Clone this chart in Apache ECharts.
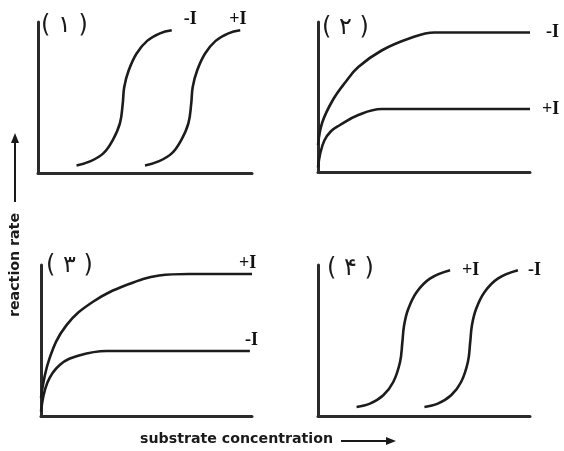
<!DOCTYPE html>
<html>
<head>
<meta charset="utf-8">
<script src="https://cdn.jsdelivr.net/npm/echarts@6/dist/echarts.min.js"></script>
<style>
  html, body { margin: 0; padding: 0; background: #fff; }
  #chart { width: 564px; height: 451px; }
</style>
</head>
<body>
<div id="chart"></div>
<script>
// panel tags and curve names
const panelLabels = ["(۱)", "(۲)", "(۳)", "(۴)"];
const noInhibName = "-I";
const inhibName = "+I";

// panel 1: sigmoid, inhibitor shifts right
const p1NoInhibX = [18, 24, 30.5, 35, 38.3, 39.6, 40.3, 42.4, 46, 51, 57, 62.5];
const p1NoInhibY = [5, 7.5, 13, 22, 33, 46, 57, 68, 79, 87.5, 92.5, 94.5];
const p1InhibX = [50, 56, 62.5, 67, 70.3, 71.6, 72.3, 74.4, 78, 83, 89, 94.5];
const p1InhibY = [5, 7.5, 13, 22, 33, 46, 57, 68, 79, 87.5, 92.5, 94.5];

// panel 2: hyperbolic, inhibitor lowers plateau
const p2NoInhibX = [0, 2, 7, 13, 19, 30, 43, 55, 70, 100];
const p2NoInhibY = [18, 33, 48, 60, 70, 81, 89, 93, 93, 93];
const p2InhibX = [0, 1, 3, 6, 10, 19, 30, 45, 100];
const p2InhibY = [3, 12, 21, 27, 31, 38, 42, 42, 42];

// panel 3: hyperbolic, inhibitor raises plateau
const p3InhibX = [0, 4, 12, 25, 41, 56, 70, 100];
const p3InhibY = [12, 38, 60, 76, 87, 93, 94, 94];
const p3NoInhibX = [0, 3, 9, 18, 31, 45, 99];
const p3NoInhibY = [3, 22, 34, 40, 43, 43, 43];

// panel 4: sigmoid, inhibitor shifts left
const p4InhibX = [18.2, 24.5, 30.8, 35.5, 38.7, 39.8, 40.6, 42.6, 46.5, 52.8, 62.3];
const p4InhibY = [6, 8.2, 13.7, 22.5, 35.8, 49, 60, 71, 82, 91, 96.5];
const p4NoInhibX = [50.2, 56.5, 62.8, 67.5, 70.7, 71.8, 72.6, 74.6, 78.5, 84.8, 94.3];
const p4NoInhibY = [6, 8.2, 13.7, 22.5, 35.8, 49, 60, 71, 82, 91, 96.5];

const zip = (xs, ys) => xs.map((x, i) => [x, ys[i]]);

const chart = echarts.init(document.getElementById("chart"), null, { renderer: "canvas" });

const grids = [
  { left: 38, top: 22, width: 214, height: 151 },
  { left: 318, top: 22, width: 212, height: 150 },
  { left: 41, top: 265, width: 211, height: 151 },
  { left: 318, top: 265, width: 212, height: 151 }
];

const axisBase = {
  type: "value",
  min: 0,
  max: 100,
  axisLine: { show: true, lineStyle: { color: "#2b2b2b", width: 3 } },
  axisTick: { show: false },
  axisLabel: { show: false },
  splitLine: { show: false }
};

const curve = (name, data, idx, offset) => ({
  name: name,
  type: "line",
  xAxisIndex: idx,
  yAxisIndex: idx,
  data: data,
  smooth: 0.4,
  showSymbol: false,
  symbol: "none",
  animation: false,
  lineStyle: { color: "#1c1c1c", width: 2.6 },
  endLabel: {
    show: true,
    formatter: name,
    offset: offset,
    color: "#111",
    fontFamily: "Liberation Serif",
    fontWeight: "bold",
    fontSize: 18
  }
});

const titleFont = {
  fontFamily: "DejaVu Sans",
  fontWeight: "bold",
  fontSize: 14.2,
  fill: "#1a1a1a"
};

const tagPos = [[41, 14], [322, 16], [46, 254], [327, 257]];

const option = {
  backgroundColor: "#fff",
  animation: false,
  grid: grids,
  xAxis: grids.map((g, i) => Object.assign({ gridIndex: i }, axisBase)),
  yAxis: grids.map((g, i) => Object.assign({ gridIndex: i }, axisBase)),
  series: [
    curve(noInhibName, zip(p1NoInhibX, p1NoInhibY), 0, [4, -11]),
    curve(inhibName, zip(p1InhibX, p1InhibY), 0, [-19, -11]),
    curve(noInhibName, zip(p2NoInhibX, p2NoInhibY), 1, [8, 0]),
    curve(inhibName, zip(p2InhibX, p2InhibY), 1, [4, 0]),
    curve(inhibName, zip(p3InhibX, p3InhibY), 2, [-21, -11]),
    curve(noInhibName, zip(p3NoInhibX, p3NoInhibY), 2, [-13, -11]),
    curve(inhibName, zip(p4InhibX, p4InhibY), 3, [4, 0]),
    curve(noInhibName, zip(p4NoInhibX, p4NoInhibY), 3, [2, 0])
  ],
  graphic: [
    ...panelLabels.map((t, i) => ({
      type: "text",
      left: tagPos[i][0],
      top: tagPos[i][1],
      style: {
        text: t.split("").join(" "),
        fontFamily: "DejaVu Sans",
        fontSize: 24,
        fill: "#1a1a1a"
      }
    })),
    // x axis title
    {
      type: "text",
      left: 140,
      top: 432,
      style: Object.assign({ text: "substrate concentration" }, titleFont)
    },
    { type: "line", shape: { x1: 341, y1: 441, x2: 390, y2: 441 }, style: { stroke: "#1a1a1a", lineWidth: 2 } },
    { type: "polygon", shape: { points: [[396, 441], [386, 437], [386, 445]] }, style: { fill: "#1a1a1a" } },
    // y axis title
    {
      type: "text",
      x: 8,
      y: 317,
      rotation: Math.PI / 2,
      style: Object.assign({ text: "reaction rate" }, titleFont)
    },
    { type: "line", shape: { x1: 15, y1: 202, x2: 15, y2: 140 }, style: { stroke: "#1a1a1a", lineWidth: 2 } },
    { type: "polygon", shape: { points: [[15, 133], [11, 143], [19, 143]] }, style: { fill: "#1a1a1a" } }
  ]
};

chart.setOption(option);
</script>
</body>
</html>
